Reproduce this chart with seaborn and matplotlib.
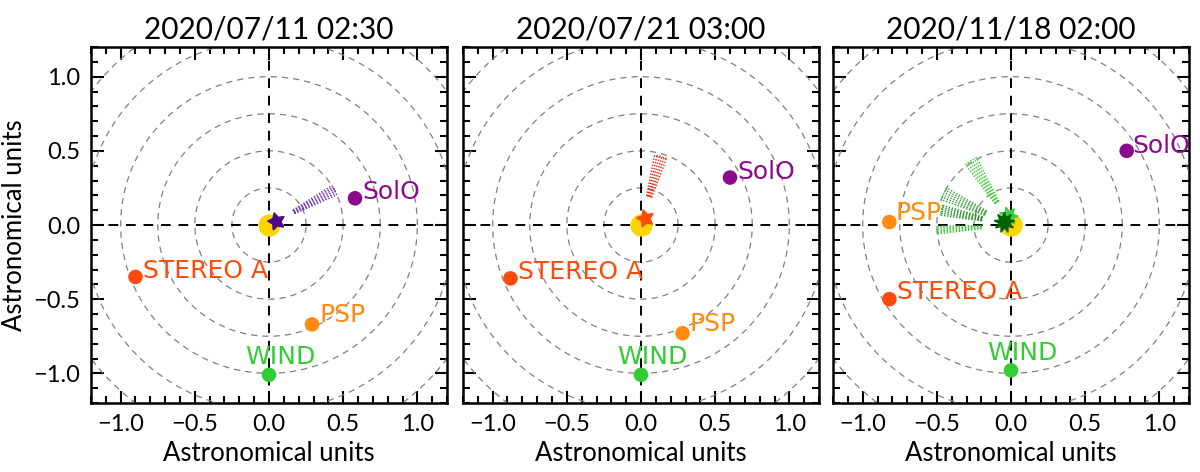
import numpy as np
import pandas as pd
import matplotlib
matplotlib.use("Agg")
import matplotlib.pyplot as plt
from matplotlib.ticker import MultipleLocator
import seaborn as sns

# panel titles
titles = ["2020/07/11 02:30", "2020/07/21 03:00", "2020/11/18 02:00"]

# spacecraft names and positions (AU) per panel
craft = ["SolO", "STEREO A", "PSP", "WIND"]
craft_colors = ["#8B0A8B", "#FF4A0A", "#FF8C10", "#32CD32"]
x_p1 = [0.58, -0.90, 0.29, 0.00]
y_p1 = [0.18, -0.35, -0.67, -1.01]
x_p2 = [0.60, -0.88, 0.28, 0.00]
y_p2 = [0.32, -0.36, -0.73, -1.01]
x_p3 = [0.78, -0.82, -0.82, 0.00]
y_p3 = [0.50, -0.50, 0.02, -0.98]

# label anchors (offset from marker, AU)
lab_dx_p1 = [0.05, 0.05, 0.05, -0.16]
lab_dy_p1 = [0.04, 0.04, 0.06, 0.12]
lab_dx_p2 = [0.05, 0.05, 0.05, -0.16]
lab_dy_p2 = [0.04, 0.04, 0.06, 0.12]
lab_dx_p3 = [0.04, 0.05, 0.04, -0.16]
lab_dy_p3 = [0.03, 0.05, 0.06, 0.12]

# CME source (star) positions and colours
star_x = [0.05, 0.03, -0.05]
star_y = [0.03, 0.05, 0.02]
star_colors = ["#4B0A8C", "#FF4A0A", "#006400"]

# CME cones: panel, direction (deg), half width (deg), inner/outer radius, colour
cone_panel = [0, 1, 2, 2, 2, 2]
cone_dir = [28, 74, 122, 155, 168, 184]
cone_half = [4, 5, 5, 5, 4, 3]
cone_rin = [0.19, 0.20, 0.18, 0.19, 0.20, 0.20]
cone_rout = [0.50, 0.48, 0.51, 0.50, 0.48, 0.50]
cone_colors = ["#6A2BB0", "#E8250A", "#2EC82E", "#2EA02E", "#1E8C1E", "#3CC83C"]

circle_r = [0.25, 0.5, 0.75, 1.0, 1.25, 1.5]

sns.set_style("white")
plt.rcParams["font.family"] = ["Lato", "DejaVu Sans"]
plt.rcParams["text.color"] = "black"
plt.rcParams["axes.labelcolor"] = "black"
plt.rcParams["xtick.color"] = "black"
plt.rcParams["ytick.color"] = "black"

fig = plt.figure(figsize=(12, 4.72), dpi=100)
lefts = [91 / 1200, 463 / 1200, 833 / 1200]
axes = [fig.add_axes([l, 69 / 472, 356 / 1200, 356 / 472]) for l in lefts]

panel_x = [x_p1, x_p2, x_p3]
panel_y = [y_p1, y_p2, y_p3]
panel_ldx = [lab_dx_p1, lab_dx_p2, lab_dx_p3]
panel_ldy = [lab_dy_p1, lab_dy_p2, lab_dy_p3]

theta = np.linspace(0, 2 * np.pi, 400)
for i, ax in enumerate(axes):
    # orbit circles
    for r in circle_r:
        ax.plot(r * np.cos(theta), r * np.sin(theta), ls=(0, (5, 4)),
                color="#808080", lw=0.9, zorder=1)
    ax.axhline(0, color="black", ls=(0, (5, 4)), lw=1.4, zorder=2)
    ax.axvline(0, color="black", ls=(0, (5, 4)), lw=1.4, zorder=2)

    # cones
    for k in range(len(cone_panel)):
        if cone_panel[k] != i:
            continue
        angs = np.linspace(cone_dir[k] - cone_half[k], cone_dir[k] + cone_half[k], 6)
        for a in np.deg2rad(angs):
            rr = np.array([cone_rin[k], cone_rout[k]])
            ax.plot(rr * np.cos(a), rr * np.sin(a), ls=(0, (1, 1.2)),
                    color=cone_colors[k], lw=1.0, zorder=3)
        arc = np.deg2rad(np.linspace(angs[0], angs[-1], 20))
        for rr in [cone_rin[k], cone_rout[k]]:
            ax.plot(rr * np.cos(arc), rr * np.sin(arc), ls=(0, (1, 1.2)),
                    color=cone_colors[k], lw=1.0, zorder=3)

    # sun and CME source
    ax.plot(0, 0, "o", color="#FFD400", ms=15, zorder=4)
    if i == 2:
        ax.plot(star_x[i] + 0.03, star_y[i] + 0.04, marker=(7, 1, 15),
                color="#44CC44", ms=14, zorder=5)
    ax.plot(star_x[i], star_y[i], marker=(5, 1, 15) if i != 2 else (9, 1, 0),
            color=star_colors[i], ms=13 if i != 2 else 15, zorder=6)

    df = pd.DataFrame({"x": panel_x[i], "y": panel_y[i], "craft": craft})
    sns.scatterplot(data=df, x="x", y="y", hue="craft", palette=craft_colors,
                    s=110, edgecolor="none", legend=False, ax=ax, zorder=7)
    for j, name in enumerate(craft):
        ax.text(panel_x[i][j] + panel_ldx[i][j], panel_y[i][j] + panel_ldy[i][j],
                name, color=craft_colors[j], fontsize=18, ha="left", va="center",
                family="DejaVu Sans", zorder=8)

    ax.set_xlim(-1.2, 1.2)
    ax.set_ylim(-1.2, 1.2)
    ax.xaxis.set_major_locator(MultipleLocator(0.5))
    ax.yaxis.set_major_locator(MultipleLocator(0.5))
    ax.xaxis.set_minor_locator(MultipleLocator(0.1))
    ax.yaxis.set_minor_locator(MultipleLocator(0.1))
    ax.tick_params(which="both", direction="in", top=True, right=True,
                   bottom=True, left=True, width=1.5, labelsize=17, pad=8)
    ax.tick_params(which="major", length=9)
    ax.tick_params(which="minor", length=5)
    for sp in ax.spines.values():
        sp.set_linewidth(1.8)
        sp.set_color("black")
    ax.set_xlabel("Astronomical units", fontsize=18.5, labelpad=4)
    if i == 0:
        ax.set_ylabel("Astronomical units", fontsize=18.5, labelpad=4)
    else:
        ax.set_ylabel("")
        ax.set_yticklabels([])
    ax.set_title(titles[i], fontsize=21.5, pad=6)

fig.savefig("out.png", dpi=100)
